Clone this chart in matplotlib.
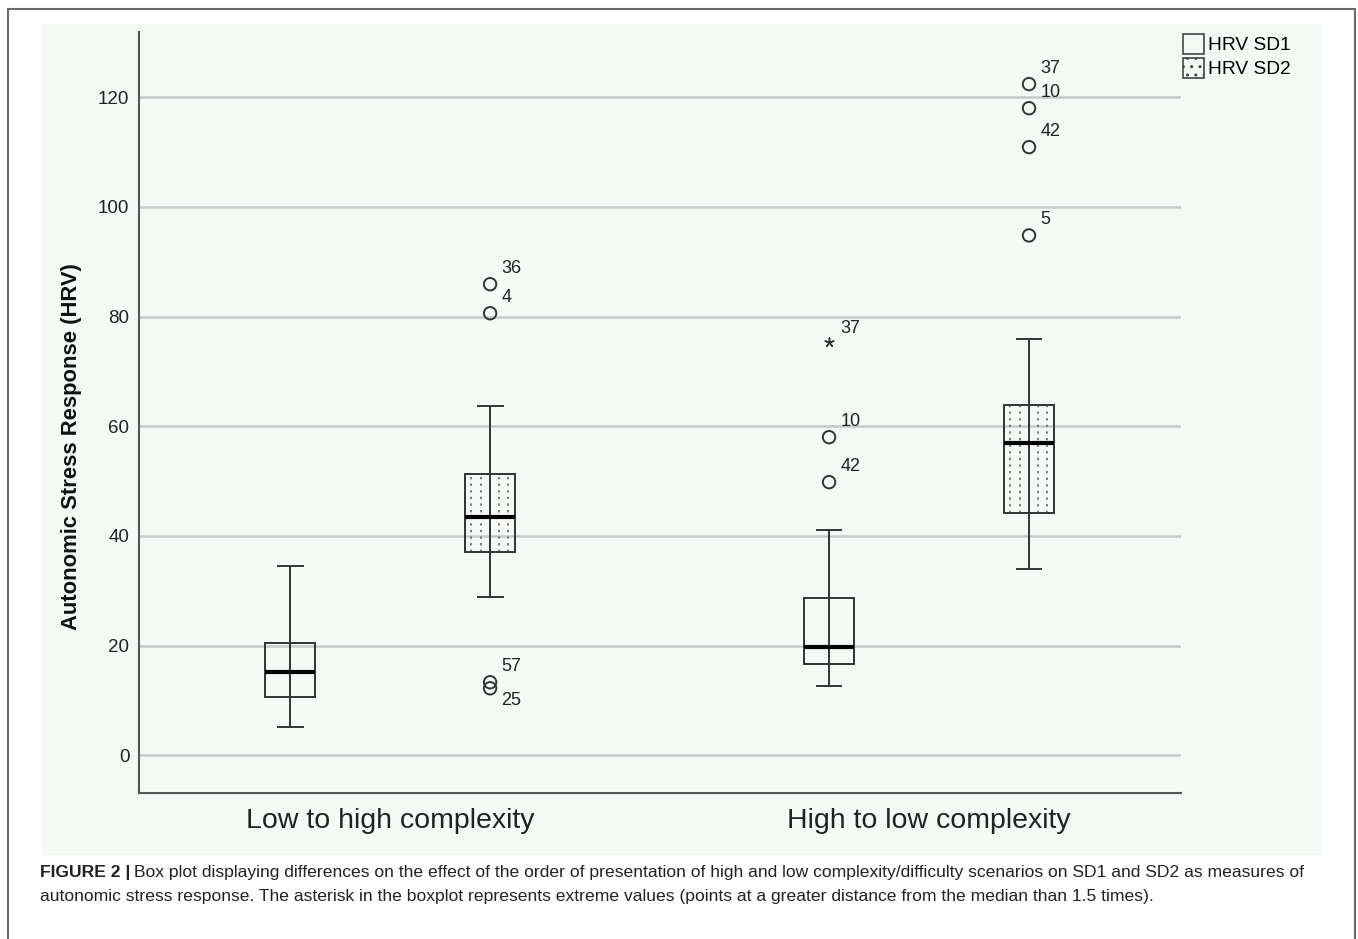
import numpy as np
import matplotlib
matplotlib.use('Agg')
import matplotlib.pyplot as plt
import matplotlib.patches as patches
from matplotlib.patches import Patch

plt.rcParams['font.family'] = ['Liberation Sans', 'DejaVu Sans']

# 数据
groups = ['Low to high complexity', 'High to low complexity']
series = ['HRV SD1', 'HRV SD2']

# 顺序: [组1 SD1, 组1 SD2, 组2 SD1, 组2 SD2]
whislo = [5.1, 28.8, 12.6, 33.9]
q1 = [10.6, 37.0, 16.6, 44.1]
med = [15.1, 43.4, 19.7, 56.9]
q3 = [20.4, 51.3, 28.6, 63.8]
whishi = [34.5, 63.7, 41.0, 75.9]

# 离群值 (所属箱子, 数值, 编号)
out_box = [1, 1, 1, 1, 2, 2, 3, 3, 3, 3]
out_val = [85.9, 80.6, 13.3, 12.2, 58.0, 49.8, 122.4, 118.0, 110.9, 94.8]
out_id = ['36', '4', '57', '25', '10', '42', '37', '10', '42', '5']
# 极端值 (星号)
ext_box = [2]
ext_val = [75.3]
ext_id = ['37']

yticks = [0, 20, 40, 60, 80, 100, 120]

W, H = 1358, 939
fig = plt.figure(figsize=(W / 100, H / 100), dpi=100)

# 外框和绘图背景
fig.patches.append(patches.Rectangle((8 / W, -0.01), 1347 / W, 1.01 - 9 / H, transform=fig.transFigure,
                                     facecolor='none', edgecolor='#6b6b6b', lw=1.5, zorder=-10))
fig.patches.append(patches.Rectangle((42 / W, 1 - 855 / H), 1280 / W, 831 / H, transform=fig.transFigure,
                                     facecolor='#f4f9f5', edgecolor='none', zorder=-10))

ax = fig.add_axes([139 / W, 1 - 793 / H, 1042 / W, 761 / H])
ax.set_facecolor('none')

centers = np.array([1.0, 2.0])
off = 0.1855
pos = np.array([centers[0] - off, centers[0] + off, centers[1] - off, centers[1] + off])
bw = 0.094

stats = []
for i in range(4):
    stats.append(dict(whislo=whislo[i], q1=q1[i], med=med[i], q3=q3[i], whishi=whishi[i], fliers=[]))

line_c = '#333333'
ax.bxp(stats, positions=pos, widths=bw, showfliers=False, patch_artist=True,
       boxprops=dict(facecolor='none', edgecolor=line_c, lw=1.4),
       medianprops=dict(color='black', lw=3),
       whiskerprops=dict(color=line_c, lw=1.4),
       capprops=dict(color=line_c, lw=1.4),
       capwidths=0.046, manage_ticks=False, zorder=3)

# 箱内贯穿线
ax.vlines(pos, q1, q3, color=line_c, lw=1.4, zorder=3)

# SD2 箱子的点状填充
for i in (1, 3):
    for f in (-0.37, -0.18, 0.17, 0.36):
        ax.vlines(pos[i] + f * bw, q1[i], q3[i], color='#7a7a7a', lw=1.4,
                  linestyles=(0, (1.2, 2.2)), zorder=2)

# 离群值
op = pos[np.array(out_box)]
ax.scatter(op, out_val, s=80, facecolor='none', edgecolor=line_c, lw=1.4, zorder=4)
for x, y, t in zip(op, out_val, out_id):
    if t == '25':
        ax.annotate(t, (x, y), xytext=(8, -3), textcoords='offset points',
                    fontsize=13, color='#222222', va='top', ha='left')
    else:
        ax.annotate(t, (x, y), xytext=(8, 5), textcoords='offset points',
                    fontsize=13, color='#222222', va='bottom', ha='left')

ep = pos[np.array(ext_box)]
ax.scatter(ep, ext_val, s=40, marker=(5, 2, 0), color=line_c, lw=1.1, zorder=4)
for x, y, t in zip(ep, ext_val, ext_id):
    ax.annotate(t, (x, y), xytext=(8, 4), textcoords='offset points',
                fontsize=13, color='#222222', va='bottom', ha='left')

ax.set_xlim(0.534, 2.4675)
ax.set_ylim(-6.9, 131.9)
ax.set_yticks(yticks)
ax.set_yticklabels([str(v) for v in yticks], fontsize=13.5, color='#222222')
ax.set_xticks(centers)
ax.set_xticklabels(groups, fontsize=20.5, color='#222222')
ax.tick_params(axis='both', length=0)
ax.tick_params(axis='y', pad=7)
ax.tick_params(axis='x', pad=11)
ax.grid(axis='y', color='#c8c8c8', lw=1.8, zorder=0)
ax.set_axisbelow(True)
for s in ('top', 'right'):
    ax.spines[s].set_visible(False)
for s in ('left', 'bottom'):
    ax.spines[s].set_color('#555555')
    ax.spines[s].set_linewidth(1.5)

fig.text(72 / W, 1 - 447 / H, 'Autonomic Stress Response (HRV)', rotation=90, fontsize=15.8,
         fontweight='bold', ha='center', va='center', color='#111111')

# 图例
handles = [Patch(facecolor='none', edgecolor='#444444', lw=1.2),
           Patch(facecolor='none', edgecolor='#444444', lw=1.2, hatch='..')]
fig.legend(handles, series, loc='upper left', bbox_to_anchor=(1183 / W, 1 - 34 / H),
           frameon=False, fontsize=13.8, handlelength=1.1, handleheight=1.2,
           handletextpad=0.2, labelspacing=0.2, borderpad=0, borderaxespad=0)

# 图注
cap1 = ('Box plot displaying differences on the effect of the order of presentation of high and low '
        'complexity/difficulty scenarios on SD1 and SD2 as measures of')
cap2 = ('autonomic stress response. The asterisk in the boxplot represents extreme values '
        '(points at a greater distance from the median than 1.5 times).')
t0 = fig.text(40 / W, 1 - 872 / H, 'FIGURE 2 |', fontsize=12.6, fontweight='bold',
              va='center', ha='left', color='#222222')
fig.canvas.draw()
bb = t0.get_window_extent()
fig.text((bb.x1 + 4) / W, 1 - 872 / H, cap1, fontsize=12.6,
         va='center', ha='left', color='#222222')
fig.text(40 / W, 1 - 896 / H, cap2, fontsize=12.6,
         va='center', ha='left', color='#222222')

fig.savefig('out.png', dpi=100)
